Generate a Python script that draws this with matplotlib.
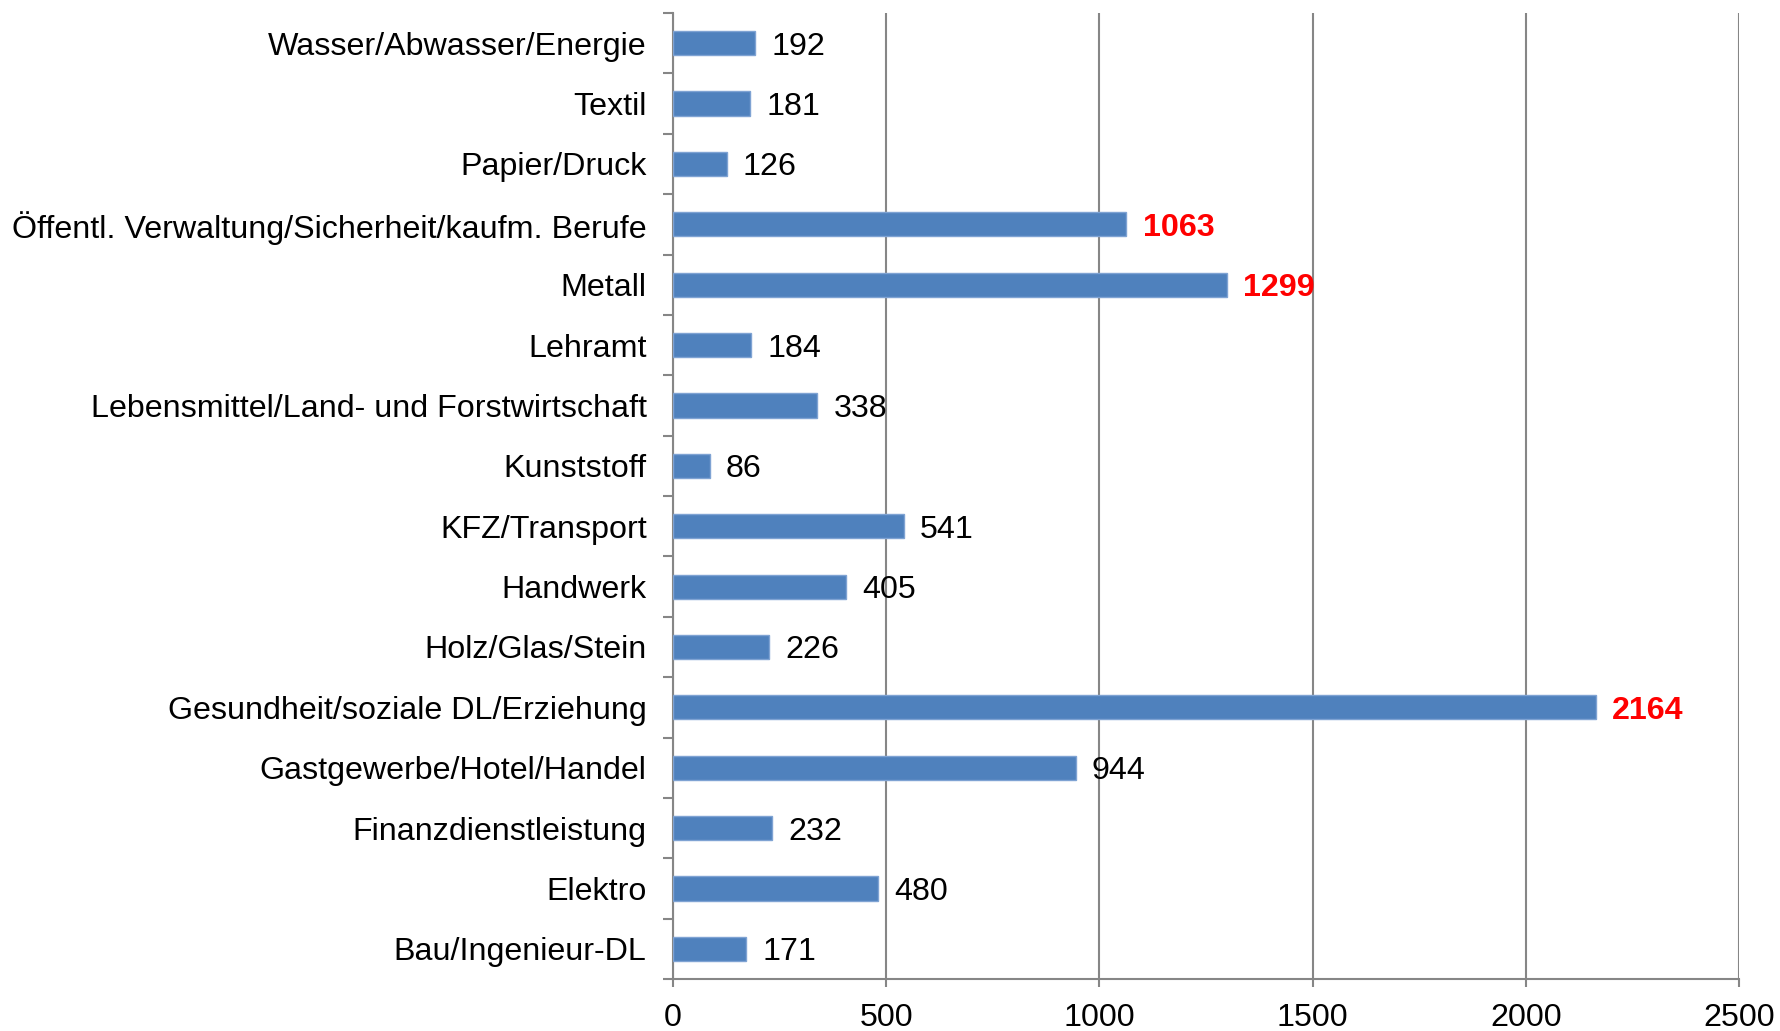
import matplotlib
matplotlib.use('Agg')
import matplotlib.pyplot as plt
import numpy as np

plt.rcParams['font.family'] = ['Liberation Sans', 'DejaVu Sans']

# categories from bottom to top
categories = ['Bau/Ingenieur-DL', 'Elektro', 'Finanzdienstleistung',
              'Gastgewerbe/Hotel/Handel', 'Gesundheit/soziale DL/Erziehung',
              'Holz/Glas/Stein', 'Handwerk', 'KFZ/Transport', 'Kunststoff',
              'Lebensmittel/Land- und Forstwirtschaft', 'Lehramt', 'Metall',
              'Öffentl. Verwaltung/Sicherheit/kaufm. Berufe', 'Papier/Druck',
              'Textil', 'Wasser/Abwasser/Energie']
values = [171, 480, 232, 944, 2164, 226, 405, 541, 86, 338, 184, 1299, 1063,
          126, 181, 192]
x_ticks = [0, 500, 1000, 1500, 2000, 2500]
highlight_above = 1000

grey = '#868686'
fs = 23.2

fig = plt.figure(figsize=(17.8, 10.31), dpi=100)
ax = fig.add_axes([0.3781, 0.0504, 0.977 - 0.3781, 0.9874 - 0.0504])

y = np.arange(len(categories))
ax.barh(y, values, height=0.4, color='#4F81BD', edgecolor='#7FA3D3',
        linewidth=1, zorder=3)

for yi, v in zip(y, values):
    if v > highlight_above:
        ax.text(v + 38, yi, str(v), va='center_baseline', ha='left', fontsize=fs,
                color='#FF0000', fontweight='bold')
    else:
        ax.text(v + 38, yi, str(v), va='center_baseline', ha='left', fontsize=fs,
                color='black')

ax.set_xlim(0, 2500)
ax.set_ylim(-0.5, len(categories) - 0.5)
ax.set_xticks(x_ticks)
ax.set_xticklabels([str(t) for t in x_ticks], fontsize=fs)
ax.set_yticks(y)
ax.set_yticklabels(categories, fontsize=fs)
for lab in ax.get_yticklabels():
    lab.set_verticalalignment('center_baseline')
ax.set_yticks(np.arange(len(categories) + 1) - 0.5, minor=True)

ax.tick_params(axis='y', which='major', length=0, pad=19)
ax.tick_params(axis='y', which='minor', length=7.5, width=1.5, color=grey,
               direction='out')
ax.tick_params(axis='x', which='major', length=6, width=1.5, color=grey,
               direction='out', pad=11)

ax.grid(axis='x', color=grey, linewidth=1.5, zorder=0)
ax.set_axisbelow(True)
for side in ['top', 'right']:
    ax.spines[side].set_visible(False)
for side in ['left', 'bottom']:
    ax.spines[side].set_color(grey)
    ax.spines[side].set_linewidth(1.5)

fig.savefig('out.png', dpi=100)
